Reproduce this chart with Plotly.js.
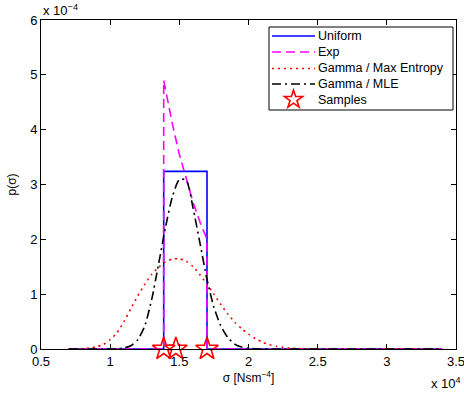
<!DOCTYPE html>
<html>
<head>
<meta charset="utf-8">
<script src="https://cdn.plot.ly/plotly-3.0.1.min.js"></script>
<style>html,body{margin:0;padding:0;background:#fff;}#chart{width:464px;height:394px;}</style>
</head>
<body>
<div id="chart"></div>
<script>
// x in units of 1e4 Nsm^-4, y in units of 1e-4
const uniformX = [0.70, 1.387, 1.387, 1.700, 1.700, 3.40];
const uniformY = [0, 0, 3.24, 3.24, 0, 0];

const expX = [0.70, 1.387, 1.387, 1.45, 1.50, 1.55, 1.60, 1.65, 1.700, 1.700, 3.40];
const expY = [0, 0, 4.90, 4.10, 3.55, 3.10, 2.67, 2.31, 2.00, 0, 0];

const maxEntX = [0.70, 0.80, 0.85, 0.90, 0.95, 1.00, 1.05, 1.10, 1.15, 1.20, 1.25, 1.30, 1.35, 1.40, 1.45, 1.50, 1.55, 1.60, 1.65, 1.70, 1.75, 1.80, 1.85, 1.90, 1.95, 2.00, 2.05, 2.10, 2.15, 2.20, 2.25, 2.30, 2.35, 2.40, 3.40];
const maxEntY = [0, 0.005, 0.02, 0.04, 0.08, 0.17, 0.30, 0.50, 0.74, 0.97, 1.18, 1.36, 1.49, 1.59, 1.64, 1.645, 1.60, 1.50, 1.35, 1.18, 1.00, 0.81, 0.64, 0.49, 0.37, 0.27, 0.19, 0.125, 0.08, 0.05, 0.03, 0.015, 0.008, 0.004, 0];

const mleX = [0.70, 1.00, 1.05, 1.10, 1.15, 1.20, 1.25, 1.30, 1.35, 1.40, 1.45, 1.50, 1.55, 1.60, 1.65, 1.70, 1.75, 1.80, 1.85, 1.90, 1.95, 2.00, 2.05, 2.10, 3.40];
const mleY = [0, 0, 0.005, 0.02, 0.06, 0.17, 0.42, 0.90, 1.55, 2.22, 2.78, 3.09, 3.08, 2.56, 1.92, 1.27, 0.76, 0.42, 0.21, 0.09, 0.035, 0.012, 0.003, 0, 0];

const sampleX = [1.387, 1.475, 1.700];
const sampleY = [0, 0, 0];

const xTicks = [0.5, 1, 1.5, 2, 2.5, 3, 3.5];
const xTickText = ['0.5', '1', '1.5', '2', '2.5', '3', '3.5'];
const yTicks = [0, 1, 2, 3, 4, 5, 6];
const yTickText = ['0', '1', '2', '3', '4', '5', '6'];

const seriesNames = ['Uniform', 'Exp', 'Gamma / Max Entropy', 'Gamma / MLE', 'Samples'];
const seriesColors = ['#0000ff', '#ff00ff', '#ff0000', '#000000', '#ff0000'];
const seriesDash = ['solid', '9px,5px', '2px,4px', '9px,4px,2px,4px', null];

const FONT = 'Liberation Sans, Arial, Helvetica, sans-serif';
const LW = 1.6;

const traces = [
  {x: uniformX, y: uniformY, name: seriesNames[0], mode: 'lines', line: {color: seriesColors[0], width: LW}, cliponaxis: false},
  {x: expX, y: expY, name: seriesNames[1], mode: 'lines', line: {color: seriesColors[1], width: LW, dash: seriesDash[1]}, cliponaxis: false},
  {x: maxEntX, y: maxEntY, name: seriesNames[2], mode: 'lines', line: {color: seriesColors[2], width: LW, dash: seriesDash[2], shape: 'spline', smoothing: 0.6}, cliponaxis: false},
  {x: mleX, y: mleY, name: seriesNames[3], mode: 'lines', line: {color: seriesColors[3], width: LW, dash: seriesDash[3], shape: 'spline', smoothing: 0.6}, cliponaxis: false},
  {x: sampleX, y: sampleY, name: seriesNames[4], mode: 'markers', marker: {symbol: 'star-open', size: 17, color: seriesColors[4], line: {width: LW, color: seriesColors[4]}}, cliponaxis: false}
];

// ---- manual legend (MATLAB-like compact box) ----
const M = {l: 41, r: 8, t: 20, b: 45};
const W = 464, H = 394;
const PW = W - M.l - M.r, PH = H - M.t - M.b;
const px = v => (v - M.l) / PW;
const py = v => (H - M.b - v) / PH;

const legBox = {x0: 269, x1: 453, y0: 27, y1: 110};
const legRows = [36, 52, 68.5, 84, 99.5];
const legLineX = [272, 315];
const legTextX = 317;

const shapes = [
  {type: 'rect', xref: 'paper', yref: 'paper', x0: px(legBox.x0), x1: px(legBox.x1), y0: py(legBox.y1), y1: py(legBox.y0),
   line: {color: '#000', width: 1}, fillcolor: '#fff', layer: 'above'}
];
for (let i = 0; i < 4; i++) {
  shapes.push({type: 'line', xref: 'paper', yref: 'paper', x0: px(legLineX[0]), x1: px(legLineX[1]),
    y0: py(legRows[i]), y1: py(legRows[i]), layer: 'above',
    line: {color: seriesColors[i], width: LW, dash: seriesDash[i]}});
}
// star glyph for the Samples legend entry
(function () {
  const cx = (legLineX[0] + legLineX[1]) / 2, cy = legRows[4], R = 9.5, r = R * 0.382;
  let d = '';
  for (let k = 0; k < 10; k++) {
    const a = (-90 + 36 * k) * Math.PI / 180;
    const rr = k % 2 === 0 ? R : r;
    d += (k === 0 ? 'M' : 'L') + px(cx + rr * Math.cos(a)).toFixed(5) + ',' + py(cy + rr * Math.sin(a)).toFixed(5);
  }
  d += 'Z';
  shapes.push({type: 'path', xref: 'paper', yref: 'paper', path: d, layer: 'above', line: {color: seriesColors[4], width: LW}});
})();

const annotations = [
  {xref: 'paper', yref: 'paper', x: 0, y: 1, xanchor: 'left', yanchor: 'bottom',
   text: 'x 10<sup>−4</sup>', showarrow: false, font: {family: FONT, size: 13, color: '#000'}},
  {xref: 'paper', yref: 'paper', x: 1.016, y: 0, xanchor: 'right', yanchor: 'top', yshift: -24,
   text: 'x 10<sup>4</sup>', showarrow: false, font: {family: FONT, size: 13, color: '#000'}}
];
seriesNames.forEach((n, i) => {
  annotations.push({xref: 'paper', yref: 'paper', x: px(legTextX), y: py(legRows[i]), xanchor: 'left', yanchor: 'middle',
    text: n, showarrow: false, borderpad: 0, font: {family: FONT, size: 12.5, color: '#000'}});
});

const axisCommon = {
  showline: true, linecolor: '#000', linewidth: 1, mirror: 'allticks',
  ticks: 'inside', ticklen: 5, tickcolor: '#000', tickwidth: 1,
  showgrid: false, zeroline: false, ticklabeloverflow: 'allow',
  tickfont: {family: FONT, size: 13, color: '#000'}
};

const layout = {
  width: W, height: H,
  margin: M,
  paper_bgcolor: '#fff', plot_bgcolor: '#fff',
  font: {family: FONT, size: 13, color: '#000'},
  showlegend: false,
  xaxis: Object.assign({}, axisCommon, {
    range: [0.5, 3.5], tickvals: xTicks, ticktext: xTickText,
    title: {text: 'σ [Nsm<sup>−4</sup>]', font: {family: FONT, size: 12, color: '#000'}, standoff: 6}
  }),
  yaxis: Object.assign({}, axisCommon, {
    range: [0, 6], tickvals: yTicks, ticktext: yTickText,
    title: {text: 'p(σ)', font: {family: FONT, size: 12, color: '#000'}, standoff: 10}
  }),
  shapes: shapes,
  annotations: annotations
};

Plotly.newPlot('chart', traces, layout, {displayModeBar: false, staticPlot: true});
</script>
</body>
</html>
